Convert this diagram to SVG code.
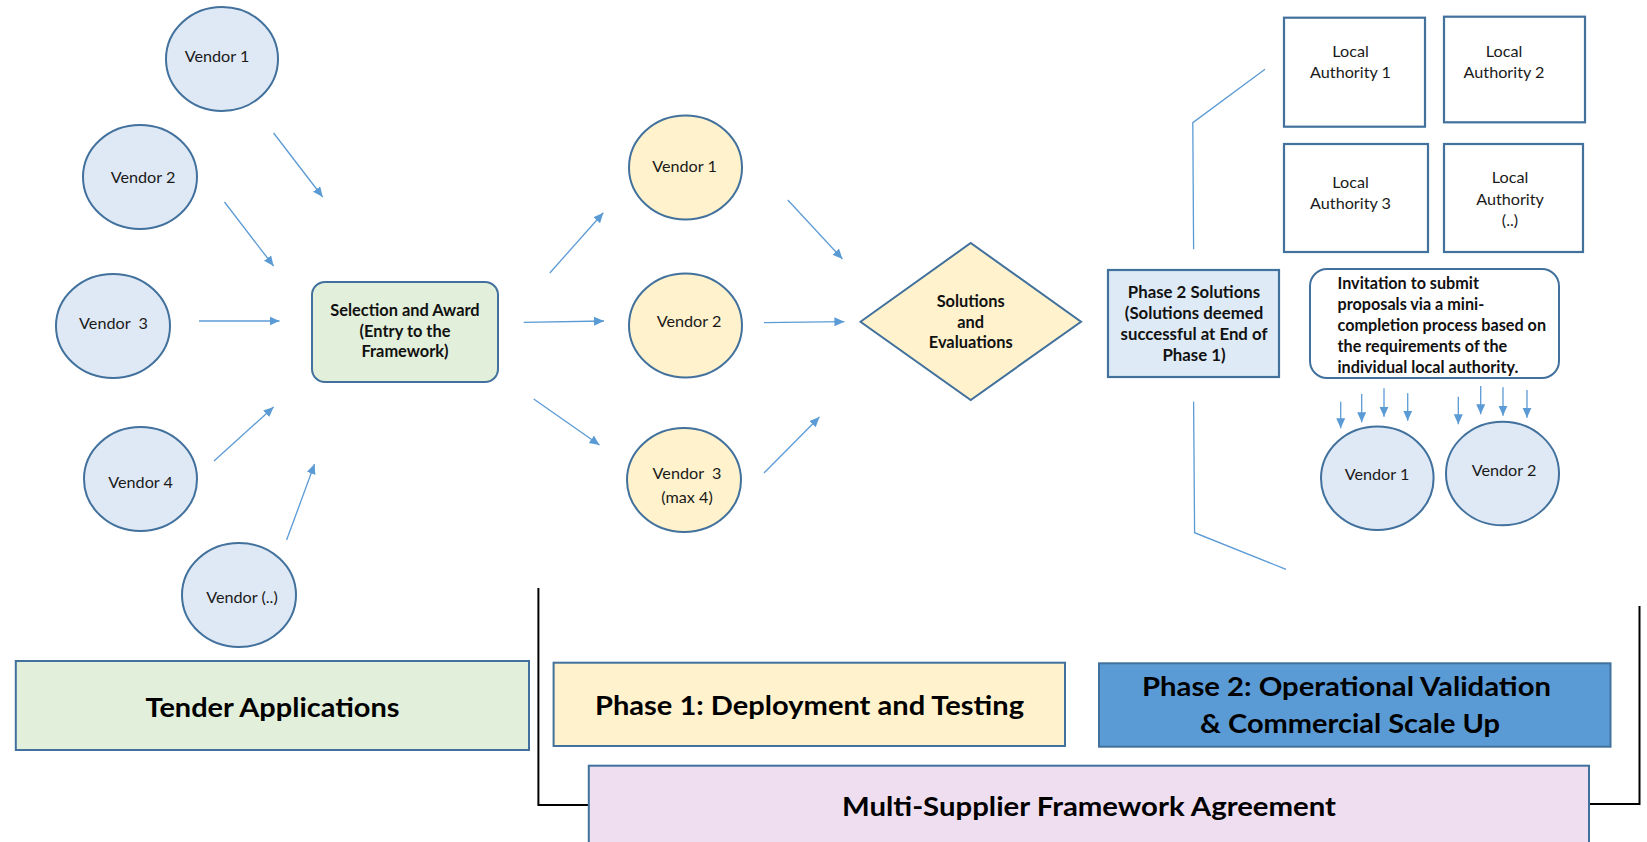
<svg xmlns="http://www.w3.org/2000/svg" width="1647" height="842" viewBox="0 0 1647 842">
<style>
  .vb { fill: #dfe9f5; stroke: #41719c; stroke-width: 2; }
  .vy { fill: #fff2cc; stroke: #41719c; stroke-width: 2; }
  .la { fill: #ffffff; stroke: #41719c; stroke-width: 2.2; }
  .t { font-family: Lato, "Liberation Sans", sans-serif; font-size: 16.2px; fill: #1a1a1a; text-anchor: middle; }
  .tb { font-family: Lato, "Liberation Sans", sans-serif; font-size: 16.4px; font-weight: bold; fill: #111; text-anchor: middle; }
  .tl { font-family: Lato, "Liberation Sans", sans-serif; font-size: 16.2px; font-weight: bold; fill: #111; text-anchor: start; }
  .big { font-family: Lato, "Liberation Sans", sans-serif; font-size: 27px; font-weight: bold; fill: #000; text-anchor: middle; }
  .arr { stroke: #5b9bd5; stroke-width: 1.3; fill: none; marker-end: url(#ah); }
  .br { stroke: #5b9bd5; stroke-width: 1.3; fill: none; }
  .blk { stroke: #000; stroke-width: 2; fill: none; }
</style>
<defs>
  <marker id="ah" markerUnits="userSpaceOnUse" markerWidth="11" markerHeight="10" refX="10" refY="4.5" orient="auto">
    <path d="M0,0 L10,4.5 L0,9 z" fill="#5b9bd5"/>
  </marker>
</defs>
<rect width="1647" height="842" fill="#ffffff"/>

<g id="connectors">
  <line class="arr" x1="273.6" y1="133" x2="322.7" y2="197"/>
  <line class="arr" x1="224.5" y1="202" x2="273.6" y2="266"/>
  <line class="arr" x1="199" y1="321" x2="279.5" y2="321"/>
  <line class="arr" x1="214" y1="461" x2="273.6" y2="407"/>
  <line class="arr" x1="286.6" y1="540" x2="314.6" y2="464"/>
  <line class="arr" x1="549.8" y1="273" x2="603.3" y2="212.7"/>
  <line class="arr" x1="523.7" y1="322.3" x2="604" y2="321"/>
  <line class="arr" x1="533.7" y1="399" x2="599.5" y2="445"/>
  <line class="arr" x1="787.8" y1="200" x2="842.5" y2="259"/>
  <line class="arr" x1="764" y1="322.7" x2="844.4" y2="321.7"/>
  <line class="arr" x1="764" y1="473" x2="819.5" y2="417"/>
  <line class="arr" x1="1340.7" y1="401.7" x2="1340.7" y2="428.3"/>
  <line class="arr" x1="1361.7" y1="394" x2="1361.7" y2="422.3"/>
  <line class="arr" x1="1384" y1="388.3" x2="1384" y2="416.7"/>
  <line class="arr" x1="1407.7" y1="393.3" x2="1407.7" y2="420.7"/>
  <line class="arr" x1="1458.3" y1="396.7" x2="1458.3" y2="424.3"/>
  <line class="arr" x1="1480.7" y1="386" x2="1480.7" y2="414.3"/>
  <line class="arr" x1="1503" y1="387.3" x2="1503" y2="415.7"/>
  <line class="arr" x1="1527" y1="390" x2="1527" y2="417.7"/>
  <polyline class="br" points="1265,69.3 1192.8,122.7 1193.6,249.3"/>
  <polyline class="br" points="1193.6,401.7 1194.6,532.7 1286,569.3"/>
  <polyline class="blk" points="538.4,588 538.4,805 588.8,805"/>
  <polyline class="blk" points="1639.5,606 1639.5,804 1589,804"/>
</g>

<g id="vendor-l1"><ellipse class="vb" cx="222" cy="59" rx="56" ry="52"/><text class="t" x="217" y="62">Vendor 1</text></g>
<g id="vendor-l2"><ellipse class="vb" cx="140" cy="177" rx="57" ry="52"/><text class="t" x="143" y="183">Vendor 2</text></g>
<g id="vendor-l3"><ellipse class="vb" cx="113" cy="326" rx="57" ry="52"/><text class="t" x="113.5" y="329" xml:space="preserve">Vendor  3</text></g>
<g id="vendor-l4"><ellipse class="vb" cx="140.5" cy="479" rx="56.5" ry="52"/><text class="t" x="140.6" y="488">Vendor 4</text></g>
<g id="vendor-ln"><ellipse class="vb" cx="239" cy="595" rx="57" ry="52"/><text class="t" x="242" y="602.5">Vendor (..)</text></g>

<g id="selection"><rect x="312" y="282" width="186" height="100" rx="13" fill="#e2efda" stroke="#41719c" stroke-width="2"/>
  <text class="tb" x="405" y="316">Selection and Award</text>
  <text class="tb" x="405" y="337">(Entry to the</text>
  <text class="tb" x="405" y="357">Framework)</text></g>

<g id="vendor-m1"><ellipse class="vy" cx="685.5" cy="167.5" rx="56.5" ry="52"/><text class="t" x="684.5" y="172">Vendor 1</text></g>
<g id="vendor-m2"><ellipse class="vy" cx="685.5" cy="325.5" rx="56.5" ry="52"/><text class="t" x="689" y="327">Vendor 2</text></g>
<g id="vendor-m3"><ellipse class="vy" cx="684" cy="480" rx="57" ry="52"/><text class="t" x="687" y="479" xml:space="preserve">Vendor  3</text><text class="t" x="687" y="503">(max 4)</text></g>

<g id="evaluations"><polygon points="860.5,321.7 970.7,243 1081,321.7 970.7,400" fill="#fff2cc" stroke="#41719c" stroke-width="2"/>
  <text class="tb" x="970.7" y="307">Solutions</text>
  <text class="tb" x="970.7" y="328">and</text>
  <text class="tb" x="970.7" y="348">Evaluations</text></g>

<g id="phase2-solutions"><rect x="1108" y="270" width="171" height="107" fill="#deebf7" stroke="#41719c" stroke-width="2.2"/>
  <text class="tb" x="1194" y="298" style="font-size:16.8px">Phase 2 Solutions</text>
  <text class="tb" x="1194" y="319" style="font-size:16.8px">(Solutions deemed</text>
  <text class="tb" x="1194" y="339.5" style="font-size:16.8px">successful at End of</text>
  <text class="tb" x="1194" y="361" style="font-size:16.8px">Phase 1)</text></g>

<g id="la1"><rect class="la" x="1284" y="17.7" width="141" height="109"/><text class="t" x="1350.5" y="57">Local</text><text class="t" x="1350.5" y="78">Authority 1</text></g>
<g id="la2"><rect class="la" x="1444" y="16.7" width="141" height="105.6"/><text class="t" x="1504" y="57">Local</text><text class="t" x="1504" y="78">Authority 2</text></g>
<g id="la3"><rect class="la" x="1284" y="144" width="144" height="108"/><text class="t" x="1350.5" y="188">Local</text><text class="t" x="1350.5" y="209">Authority 3</text></g>
<g id="la4"><rect class="la" x="1444" y="144" width="139" height="108"/><text class="t" x="1510" y="183">Local</text><text class="t" x="1510" y="205">Authority</text><text class="t" x="1510" y="226">(..)</text></g>

<g id="invitation"><rect x="1310" y="269" width="249" height="109" rx="17" fill="#ffffff" stroke="#41719c" stroke-width="2"/>
  <text class="tl" x="1337.5" y="288.5">Invitation to submit</text>
  <text class="tl" x="1337.5" y="309.5">proposals via a mini-</text>
  <text class="tl" x="1337.5" y="331">completion process based on</text>
  <text class="tl" x="1337.5" y="352">the requirements of the</text>
  <text class="tl" x="1337.5" y="372.5">individual local authority.</text></g>

<g id="vendor-r1"><ellipse class="vb" cx="1377.3" cy="478.3" rx="56.3" ry="51.7"/><text class="t" x="1377" y="480">Vendor 1</text></g>
<g id="vendor-r2"><ellipse class="vb" cx="1502.5" cy="473.5" rx="56.5" ry="51.8"/><text class="t" x="1504" y="476">Vendor 2</text></g>

<g id="tender"><rect x="15.8" y="661" width="513.2" height="89" fill="#e2efda" stroke="#41719c" stroke-width="2"/>
  <text class="big" x="272.5" y="716.5" textLength="254" lengthAdjust="spacingAndGlyphs">Tender Applications</text></g>
<g id="phase1"><rect x="553.6" y="662.7" width="511.4" height="83.3" fill="#fff2cc" stroke="#41719c" stroke-width="2"/>
  <text class="big" x="809.5" y="714.5" textLength="429" lengthAdjust="spacingAndGlyphs">Phase 1: Deployment and Testing</text></g>
<g id="phase2"><rect x="1099" y="663.3" width="511.5" height="83.4" fill="#5b9bd5" stroke="#41719c" stroke-width="2"/>
  <text class="big" x="1346.5" y="696" textLength="409" lengthAdjust="spacingAndGlyphs">Phase 2: Operational Validation</text>
  <text class="big" x="1350" y="733" textLength="300" lengthAdjust="spacingAndGlyphs">&amp; Commercial Scale Up</text></g>
<g id="framework"><rect x="588.8" y="765.7" width="1000.2" height="90" fill="#efdeef" stroke="#41719c" stroke-width="2"/>
  <text class="big" x="1089" y="815.5" textLength="494" lengthAdjust="spacingAndGlyphs">Multi-Supplier Framework Agreement</text></g>
</svg>
